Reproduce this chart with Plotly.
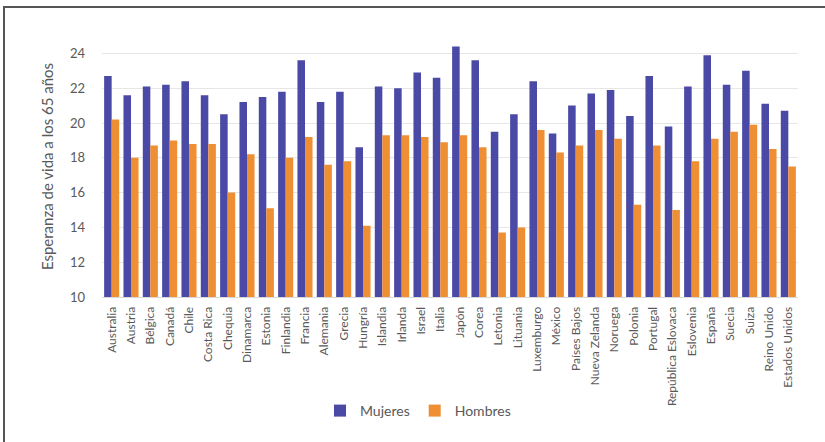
import plotly.graph_objects as go

# Life expectancy at age 65, by country and sex
paises = [
    "Australia", "Austria", "Bélgica", "Canadá", "Chile", "Costa Rica", "Chequia",
    "Dinamarca", "Estonia", "Finlandia", "Francia", "Alemania", "Grecia", "Hungría",
    "Islandia", "Irlanda", "Israel", "Italia", "Japón", "Corea", "Letonia", "Lituania",
    "Luxemburgo", "México", "Países Bajos", "Nueva Zelanda", "Noruega", "Polonia",
    "Portugal", "República Eslovaca", "Eslovenia", "España", "Suecia", "Suiza",
    "Reino Unido", "Estados Unidos",
]
mujeres = [
    22.7, 21.6, 22.1, 22.2, 22.4, 21.6, 20.5, 21.2, 21.5, 21.8, 23.6, 21.2, 21.8, 18.6,
    22.1, 22.0, 22.9, 22.6, 24.4, 23.6, 19.5, 20.5, 22.4, 19.4, 21.0, 21.7, 21.9, 20.4,
    22.7, 19.8, 22.1, 23.9, 22.2, 23.0, 21.1, 20.7,
]
hombres = [
    20.2, 18.0, 18.7, 19.0, 18.8, 18.8, 16.0, 18.2, 15.1, 18.0, 19.2, 17.6, 17.8, 14.1,
    19.3, 19.3, 19.2, 18.9, 19.3, 18.6, 13.7, 14.0, 19.6, 18.3, 18.7, 19.6, 19.1, 15.3,
    18.7, 15.0, 17.8, 19.1, 19.5, 19.9, 18.5, 17.5,
]
y_ticks = [10, 12, 14, 16, 18, 20, 22, 24]

AZUL = "#4b49a6"
NARANJA = "#ee8f33"
GRIS = "#595959"
FUENTE = "Lato, 'Open Sans', sans-serif"

fig = go.Figure()
fig.add_trace(go.Bar(name="Mujeres", x=paises, y=mujeres, marker_color=AZUL,
                     marker_line_width=0))
fig.add_trace(go.Bar(name="Hombres", x=paises, y=hombres, marker_color=NARANJA,
                     marker_line_width=0))

# plot area in pixels: x 102..798, y 36..297
L, R, T, B = 102, 27, 36, 145
W, H = 825, 442
pw, ph = W - L - R, H - T - B

def px_x(p):
    return (p - L) / pw

def px_y(p):
    return (H - B - p) / ph

fig.update_layout(
    width=W, height=H,
    margin=dict(l=L, r=R, t=T, b=B),
    paper_bgcolor="white", plot_bgcolor="white",
    barmode="group", bargap=0.22, bargroupgap=0,
    font=dict(family=FUENTE, color=GRIS),
    showlegend=True,
    legend=dict(orientation="h", x=px_x(418), xanchor="center",
                y=px_y(411), yanchor="middle",
                font=dict(size=14, color=GRIS), itemwidth=30,
                traceorder="normal"),
    shapes=[dict(type="rect", xref="paper", yref="paper",
                 x0=px_x(4), x1=px_x(840), y0=px_y(460), y1=px_y(7),
                 line=dict(color="#555555", width=2), fillcolor="rgba(0,0,0,0)",
                 layer="below")],
)
fig.update_xaxes(
    tickangle=-90, tickfont=dict(size=12, color=GRIS),
    showline=True, linecolor="#d9d9d9", linewidth=1,
    showgrid=False, ticks="", automargin=False,
    ticklabelstandoff=4,
)
fig.update_yaxes(
    range=[10, 25], tickvals=y_ticks, ticktext=[str(v) for v in y_ticks],
    tickfont=dict(size=13, color=GRIS),
    showgrid=True, gridcolor="#e6e6e6", gridwidth=1,
    zeroline=False, showline=False, ticks="",
    ticklabelstandoff=16,
    title=dict(text="Esperanza de vida a los 65 años",
               font=dict(size=15, color=GRIS), standoff=12),
    automargin=False,
)

fig.write_html("out.html")
